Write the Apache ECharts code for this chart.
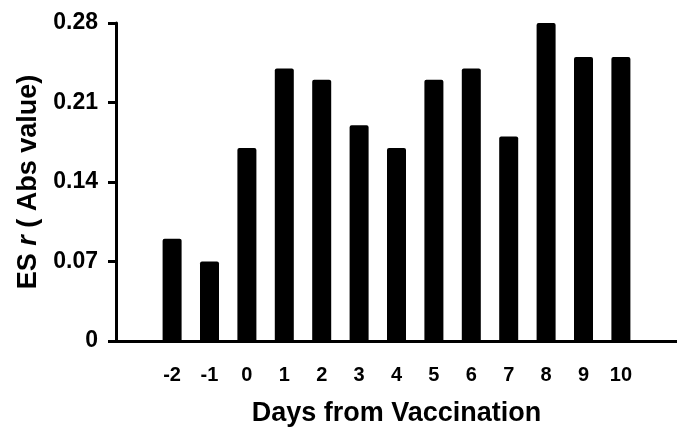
<!DOCTYPE html>
<html>
<head>
<meta charset="utf-8">
<script src="https://cdn.jsdelivr.net/npm/echarts@6/dist/echarts.min.js"></script>
<style>
html,body{margin:0;padding:0;background:#fff;}
#c{width:677px;height:433px;}
</style>
</head>
<body>
<div id="c"></div>
<script>
// Categories (blank padding slots at each end, as in the reference)
var days = ['', '-2', '-1', '0', '1', '2', '3', '4', '5', '6', '7', '8', '9', '10', ''];
// ES r (absolute value) per day
var esValues = [null, 0.09, 0.07, 0.17, 0.24, 0.23, 0.19, 0.17, 0.23, 0.24, 0.18, 0.28, 0.25, 0.25, null];
var yTicks = [0, 0.07, 0.14, 0.21, 0.28];

var chart = echarts.init(document.getElementById('c'), null, {renderer: 'canvas'});
var font = 'Liberation Sans, Arial, sans-serif';
chart.setOption({
  animation: false,
  backgroundColor: '#ffffff',
  grid: {left: 116, right: 0, top: 23, bottom: 92, containLabel: false},
  xAxis: {
    type: 'category',
    data: days,
    boundaryGap: true,
    axisLine: {lineStyle: {color: '#000', width: 3}},
    axisTick: {show: false},
    axisLabel: {color: '#000', fontFamily: font, fontWeight: 'bold', fontSize: 20, margin: 24, interval: 0},
    name: 'Days from Vaccination',
    nameLocation: 'middle',
    nameGap: 59,
    nameTextStyle: {color: '#000', fontFamily: font, fontWeight: 'bold', fontSize: 27}
  },
  yAxis: {
    type: 'value',
    min: 0,
    max: 0.28,
    interval: 0.07,
    axisLine: {show: true, lineStyle: {color: '#000', width: 3}},
    axisTick: {show: true, length: 8, lineStyle: {color: '#000', width: 3}},
    splitLine: {show: false},
    axisLabel: {
      color: '#000', fontFamily: font, fontWeight: 'bold', fontSize: 23, margin: 18,
      formatter: function (v) {
        for (var i = 0; i < yTicks.length; i++) {
          if (Math.abs(yTicks[i] - v) < 1e-9) return String(yTicks[i]);
        }
        return '';
      }
    },
    name: 'ES {i|r} ( Abs value)',
    nameLocation: 'middle',
    nameGap: 73,
    nameRotate: 90,
    nameTextStyle: {
      color: '#000', fontFamily: font, fontWeight: 'bold', fontSize: 27,
      rich: {i: {fontStyle: 'italic', fontWeight: 'bold', fontFamily: font, fontSize: 27, color: '#000'}}
    }
  },
  series: [{
    type: 'bar',
    data: esValues,
    barWidth: 19,
    itemStyle: {color: '#000', borderRadius: [2, 2, 0, 0]}
  }]
});
</script>
</body>
</html>
